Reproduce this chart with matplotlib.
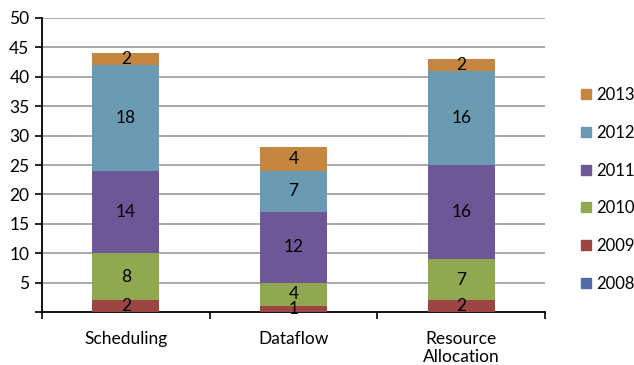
import numpy as np
import matplotlib

matplotlib.use("Agg")
import matplotlib.pyplot as plt
from matplotlib.patches import Rectangle

categories = ["Scheduling", "Dataflow", "Resource\nAllocation"]
years = ["2008", "2009", "2010", "2011", "2012", "2013"]
v2008 = [0, 0, 0]
v2009 = [2, 1, 2]
v2010 = [8, 4, 7]
v2011 = [14, 12, 16]
v2012 = [18, 7, 16]
v2013 = [2, 4, 2]
series = [v2008, v2009, v2010, v2011, v2012, v2013]
colors = ["#4F6AA4", "#9B4544", "#90A850", "#6E5797", "#6A9BB3", "#C5873F"]

plt.rcParams.update({"font.family": ["Lato", "DejaVu Sans"], "font.size": 12.5})

W, H = 634, 365
fig = plt.figure(figsize=(W / 100, H / 100), dpi=100)
ax = fig.add_axes([42 / W, 1 - 312 / H, (545 - 42) / W, (312 - 18) / H])

x = np.arange(len(categories))
bottom = np.zeros(len(categories))
for vals, col in zip(series, colors):
    vals = np.array(vals, dtype=float)
    ax.bar(x, vals, 0.4, bottom=bottom, color=col, zorder=3)
    for xi, b, v in zip(x, bottom, vals):
        if v > 0:
            ax.text(xi, b + v / 2, f"{int(v)}", ha="center", va="center",
                    fontsize=12.5, zorder=4)
    bottom += vals

ax.set_xlim(-0.5, 2.5)
ax.set_ylim(0, 50)
ax.set_yticks(range(5, 55, 5))
ax.set_yticks([0], minor=True)
ax.tick_params(axis="y", which="both", direction="out", length=5, width=1.2, pad=4)
ax.grid(True, axis="y", color="#A0A0A0", lw=1.3, zorder=0)
ax.set_xticks(x)
ax.set_xticklabels(categories, linespacing=1.15)
ax.set_xticks([-0.5, 0.5, 1.5, 2.5], minor=True)
ax.tick_params(axis="x", which="major", length=0, pad=14)
ax.tick_params(axis="x", which="minor", direction="out", length=5, width=1.2)
for s in ["top", "right"]:
    ax.spines[s].set_visible(False)
ax.spines["left"].set_linewidth(1.3)
ax.spines["bottom"].set_linewidth(1.3)

# legend, drawn by hand: newest year on top
for i, (yr, col) in enumerate(zip(years[::-1], colors[::-1])):
    cy = 94 + i * 37.8
    fig.patches.append(Rectangle((581 / W, 1 - (cy + 5) / H), 10 / W, 10 / H,
                                 transform=fig.transFigure, color=col))
    fig.text(596 / W, 1 - (cy + 1) / H, yr, ha="left", va="center", fontsize=12)

fig.savefig("out.png")
